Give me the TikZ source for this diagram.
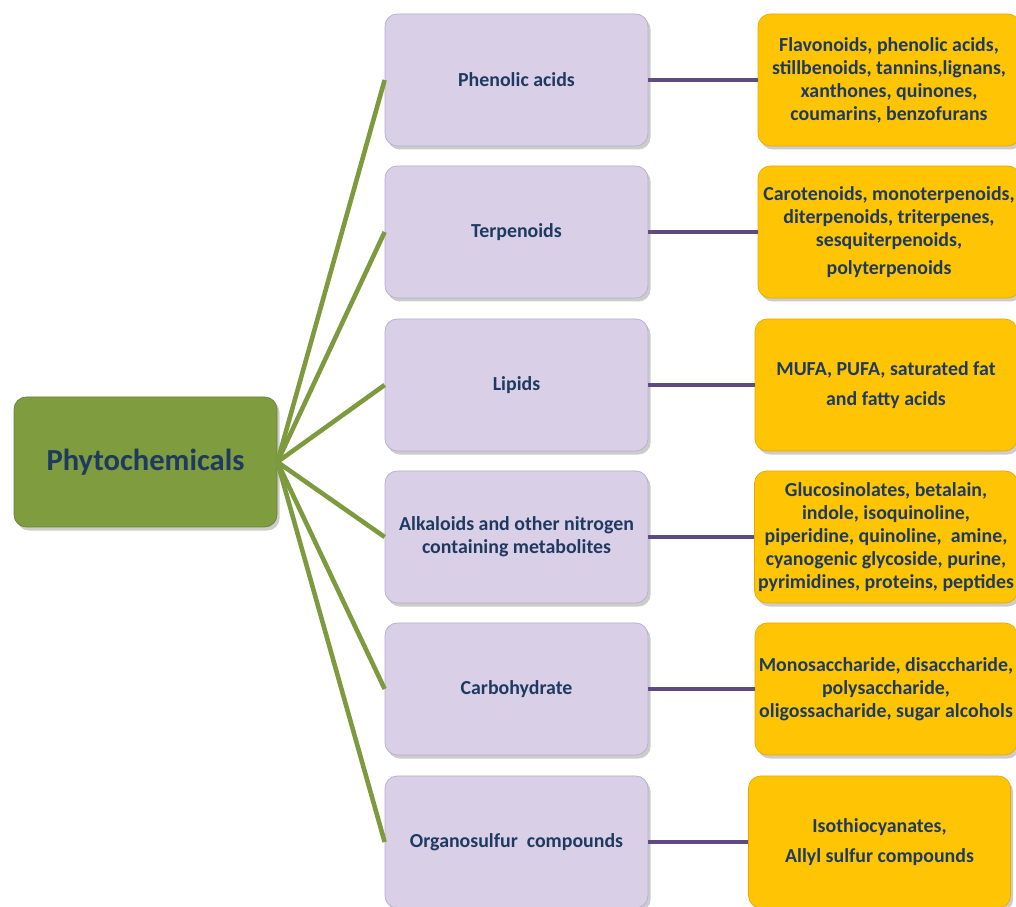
\documentclass[tikz,border=0pt]{standalone}
\usepackage{fontspec}
\setmainfont{Carlito}
\usetikzlibrary{shadows}

\definecolor{rootgreen}{HTML}{7F9C3E}
\definecolor{rootedge}{HTML}{6A8434}
\definecolor{lavender}{HTML}{D9D0E8}
\definecolor{lavedge}{HTML}{B9ACCB}
\definecolor{amber}{HTML}{FFC505}
\definecolor{amberedge}{HTML}{E8A800}
\definecolor{navy}{HTML}{1F3A60}
\definecolor{branch}{HTML}{7D9A3E}
\definecolor{leafline}{HTML}{5F4B82}

\tikzstyle{box} = [rectangle,rounded corners=7pt,align=center,inner sep=2pt,
  text=navy,font=\bfseries,drop shadow={shadow xshift=1.5pt,shadow yshift=-2pt,opacity=0.4}]
\tikzstyle{root} = [box,fill=rootgreen,draw=rootedge,minimum width=5.26cm,minimum height=2.6cm,font=\bfseries\fontsize{17.4}{21}\selectfont]
\tikzstyle{group} = [box,fill=lavender,draw=lavedge,minimum width=5.26cm,minimum height=2.64cm,font=\bfseries\fontsize{11.3}{13.3}\selectfont]
\tikzstyle{leaf} = [box,fill=amber,draw=amberedge,minimum width=5.24cm,minimum height=2.64cm,font=\bfseries\fontsize{11.3}{13.1}\selectfont]
\tikzstyle{spoke} = [draw=branch,line width=2.6pt]
\tikzstyle{link} = [draw=leafline,line width=2pt]

\begin{document}
\begin{tikzpicture}
	\useasboundingbox (0,0) rectangle (20.32,18.14);
	\node[root] (phyto) at (2.91,8.90) {Phytochemicals};

	\node[group] (g1) at (10.33,16.54) {Phenolic acids};
	\node[group] (g2) at (10.33,13.50) {Terpenoids};
	\node[group] (g3) at (10.33,10.44) {Lipids};
	\node[group] (g4) at (10.33,7.40) {Alkaloids and other nitrogen\\containing metabolites};
	\node[group] (g5) at (10.33,4.36) {Carbohydrate};
	\node[group] (g6) at (10.33,1.30) {Organosulfur\ \ compounds};

	\node[leaf] (l1) at (17.78,16.54) {Flavonoids, phenolic acids,\\stillbenoids, tannins,lignans,\\xanthones, quinones,\\coumarins, benzofurans};
	\node[leaf] (l2) at (17.78,13.50) {Carotenoids, monoterpenoids,\\diterpenoids, triterpenes,\\sesquiterpenoids,\\[3pt]polyterpenoids};
	\node[leaf] (l3) at (17.72,10.44) {MUFA, PUFA, saturated fat\\[4pt]and fatty acids};
	\node[leaf] (l4) at (17.72,7.40) {Glucosinolates, betalain,\\indole, isoquinoline,\\piperidine, quinoline,\ \ amine,\\cyanogenic glycoside, purine,\\pyrimidines, proteins, peptides};
	\node[leaf] (l5) at (17.72,4.36) {Monosaccharide, disaccharide,\\polysaccharide,\\oligossacharide, sugar alcohols};
	\node[leaf] (l6) at (17.59,1.30) {Isothiocyanates,\\[4pt]Allyl sulfur compounds};

	% spokes out of the root
	\foreach \g in {g1,g2,g3,g4,g5,g6}
		\draw[spoke] (phyto.east) -- (\g.west);

	% each group to its examples
	\foreach \i in {1,...,6}
		\draw[link] (g\i.east) -- (l\i.west);
\end{tikzpicture}
\end{document}
